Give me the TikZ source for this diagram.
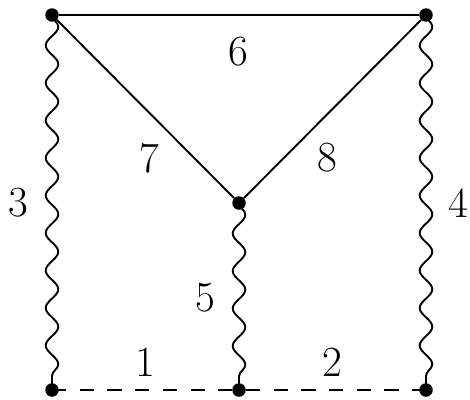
\documentclass[tikz,border=0pt]{standalone}
\usepackage{tikz}
\usetikzlibrary{decorations.pathmorphing}

\begin{document}
\begin{tikzpicture}[
  x=1pt, y=-1pt,
  vtx/.style    = {circle, fill=black, inner sep=0pt, minimum size=13.5pt},
  plain/.style  = {line width=1.9pt},
  wavy/.style   = {plain, decorate, decoration={snake, segment length=37.5pt, amplitude=6.3pt}},
  broken/.style = {plain, dash pattern=on 14.2pt off 13.5pt},
  lab/.style    = {font=\fontsize{43}{50}\selectfont, inner sep=0pt},
]
\useasboundingbox (0,0) rectangle (470,399);

%% ---------------------------------------------------------------- vertices
\node[vtx] (tl) at (52,15) {};
\node[vtx] (tr) at (426,15) {};
\node[vtx] (mid) at (239,203) {};
\node[vtx] (bl) at (52,390) {};
\node[vtx] (bm) at (239,390) {};
\node[vtx] (br) at (426,390) {};

%% ---------------------------------------------------------------- edges
\draw[plain] (tl) -- (tr);
\draw[plain] (tl) -- (mid);
\draw[plain] (tr) -- (mid);
\draw[wavy] (tl.center) -- (bl.center);
\draw[wavy] (tr.center) -- (br.center);
\draw[wavy] (mid.center) -- (bm.center);
\draw[broken] (bl.center) -- (br.center);

%% ---------------------------------------------------------------- labels
\node[lab] (l1) at (145,362) {1};
\node[lab] (l2) at (332,362) {2};
\node[lab] (l3) at (18,203) {3};
\node[lab] (l4) at (458,203) {4};
\node[lab] (l5) at (205,298) {5};
\node[lab] (l6) at (238,52) {6};
\node[lab] (l7) at (149,158) {7};
\node[lab] (l8) at (327,158) {8};
\end{tikzpicture}
\end{document}
